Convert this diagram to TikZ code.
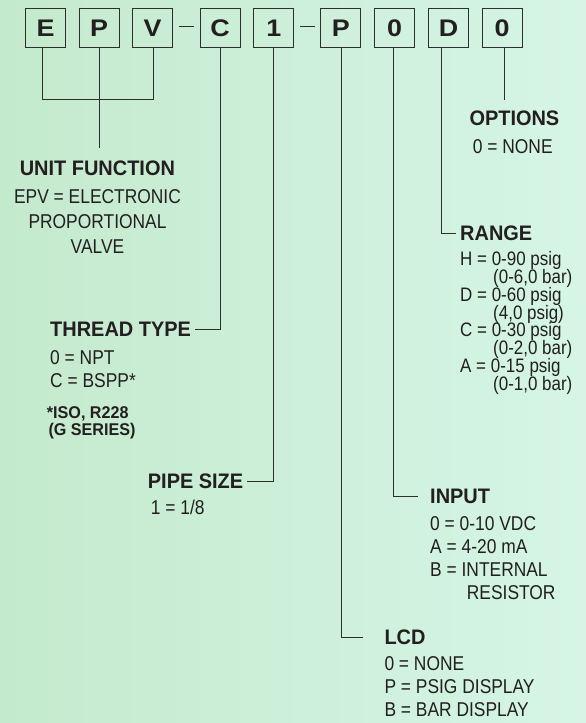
\documentclass[tikz,border=0pt]{standalone}
\usepackage{fontspec}
\setmainfont{Liberation Sans}[FakeStretch=0.87]
\newfontfamily\headFont{Liberation Sans}[FakeStretch=0.95]
\newfontfamily\boxFont{Liberation Sans}[FakeStretch=1.12]
\newcommand{\tightLines}{\lineskiplimit=-20pt\relax}

\begin{document}
\begin{tikzpicture}[x=1pt, y=-1pt,
    codeBox/.style={draw=lineColour, line width=0.9pt, minimum width=40pt, minimum height=39pt, inner sep=0pt, text=textColour, font=\boxFont\bfseries\fontsize{24}{24}\selectfont},
    headText/.style={anchor=west, inner sep=0pt, text=textColour, font=\headFont\bfseries\fontsize{21}{21}\selectfont},
    bodyText/.style={anchor=north west, inner sep=0pt, align=left, text=textColour, font=\fontsize{20}{23.2}\selectfont\tightLines},
    leader/.style={draw=lineColour, line width=0.9pt}]

    \definecolor{lineColour}{HTML}{2E2E2E}
    \definecolor{textColour}{HTML}{231F20}
    \definecolor{bgLeft}{HTML}{C4EACD}
    \definecolor{bgRight}{HTML}{D6F5E6}

    % Draw background
    \fill[left color=bgLeft, right color=bgRight] (0,0) rectangle (586,723);
    \useasboundingbox (0,0) rectangle (586,723);

    % Draw code boxes
    \foreach \name/\letter/\xpos in {boxE/E/45.7, boxP/P/99, boxV/V/152.7, boxC/C/220, boxOne/1/273.8, boxLcd/P/340.9, boxInput/0/394.7, boxRange/D/448.7, boxOption/0/502}
        \node[codeBox] (\name) at (\xpos,28.3) {\letter};

    % Draw dashes between groups
    \draw[leader, shorten <=5.5pt, shorten >=5.5pt] ([yshift=2.2pt]boxV.east) -- ([yshift=2.2pt]boxC.west);
    \draw[leader, shorten <=5.5pt, shorten >=5.5pt] ([yshift=2.2pt]boxOne.east) -- ([yshift=2.2pt]boxLcd.west);

    % Unit function
    \node[headText, anchor=center] (unitHead) at (97.4,168.3) {UNIT FUNCTION};
    \node[bodyText, anchor=north, align=center, font=\fontsize{20}{25}\selectfont] (unitBody) at (97.5,189.5) {EPV = ELECTRONIC\\PROPORTIONAL\\VALVE};

    % Thread type
    \node[headText] (threadHead) at (50,329) {THREAD TYPE};
    \node[bodyText] (threadBody) at (50,350) {0 = NPT\\C = BSPP*};
    \node[bodyText, font=\headFont\bfseries\fontsize{17}{17}\selectfont\tightLines] (threadNote) at (46.7,406.7) {*ISO, R228\\\hspace*{1.6pt}(G SERIES)};

    % Pipe size
    \node[headText] (pipeHead) at (147.7,481.7) {PIPE SIZE};
    \node[bodyText] (pipeBody) at (150.7,499.5) {1 = 1/8};

    % Options
    \node[headText] (optionHead) at (469.3,118.3) {OPTIONS};
    \node[bodyText] (optionBody) at (472.7,139.5) {0 = NONE};

    % Range
    \node[headText] (rangeHead) at (460,233.3) {RANGE};
    \node[bodyText, font=\fontsize{19.5}{17.8}\selectfont\tightLines] (rangeBody) at (460,251.3) {H = 0-90 psig\\\hspace*{33pt}(0-6,0 bar)\\D = 0-60 psig\\\hspace*{33pt}(4,0 psig)\\C = 0-30 psig\\\hspace*{33pt}(0-2,0 bar)\\A = 0-15 psig\\\hspace*{33pt}(0-1,0 bar)};

    % Input
    \node[headText] (inputHead) at (430,496.7) {INPUT};
    \node[bodyText] (inputBody) at (430,516.1) {0 = 0-10 VDC\\A = 4-20 mA\\B = INTERNAL\\\hspace*{36.7pt}RESISTOR};

    % LCD
    \node[headText] (lcdHead) at (384.3,637.3) {LCD};
    \node[bodyText, font=\fontsize{20}{23.4}\selectfont\tightLines] (lcdBody) at (384.3,656) {0 = NONE\\P = PSIG DISPLAY\\B = BAR DISPLAY};

    % Draw leaders
    \coordinate (unitTop) at (99.3,147.7);
    \draw[leader] ([xshift=-3pt]boxE.south) -- ++(0,51.3) -| ([xshift=0.6pt]boxV.south);
    \draw[leader] ([xshift=0.3pt]boxP.south) -- (unitTop);
    \draw[leader] (boxC.south) |- ([xshift=4pt]threadHead.east);
    \draw[leader] (boxOne.south) |- ([xshift=4pt]pipeHead.east);
    \draw[leader] ([xshift=0.6pt]boxLcd.south) |- ([xshift=-21pt]lcdHead.west);
    \draw[leader] ([xshift=-1.2pt]boxInput.south) |- ([xshift=-11.7pt]inputHead.west);
    \draw[leader] ([xshift=-7.5pt]boxRange.south) |- ([xshift=-4pt]rangeHead.west);
    \draw[leader] ([xshift=2pt]boxOption.south) -- ++(0,52.2);

\end{tikzpicture}
\end{document}
